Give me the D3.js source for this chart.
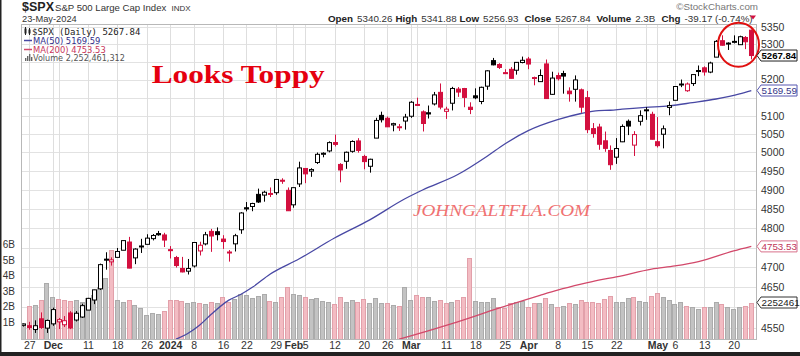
<!DOCTYPE html>
<html><head><meta charset="utf-8">
<script src="https://cdn.jsdelivr.net/npm/d3@7"></script>
<style>body{margin:0;background:#fff}svg{display:block}</style>
</head><body>
<svg id="c" width="800" height="356"></svg>
<script>
// ---------------- data ----------------
const dates = [
"2023-11-24","2023-11-27","2023-11-28","2023-11-29","2023-11-30",
"2023-12-01","2023-12-04","2023-12-05","2023-12-06","2023-12-07","2023-12-08",
"2023-12-11","2023-12-12","2023-12-13","2023-12-14","2023-12-15",
"2023-12-18","2023-12-19","2023-12-20","2023-12-21","2023-12-22",
"2023-12-26","2023-12-27","2023-12-28","2023-12-29",
"2024-01-02","2024-01-03","2024-01-04","2024-01-05",
"2024-01-08","2024-01-09","2024-01-10","2024-01-11","2024-01-12",
"2024-01-16","2024-01-17","2024-01-18","2024-01-19",
"2024-01-22","2024-01-23","2024-01-24","2024-01-25","2024-01-26",
"2024-01-29","2024-01-30","2024-01-31","2024-02-01","2024-02-02",
"2024-02-05","2024-02-06","2024-02-07","2024-02-08","2024-02-09",
"2024-02-12","2024-02-13","2024-02-14","2024-02-15","2024-02-16",
"2024-02-20","2024-02-21","2024-02-22","2024-02-23",
"2024-02-26","2024-02-27","2024-02-28","2024-02-29","2024-03-01",
"2024-03-04","2024-03-05","2024-03-06","2024-03-07","2024-03-08",
"2024-03-11","2024-03-12","2024-03-13","2024-03-14","2024-03-15",
"2024-03-18","2024-03-19","2024-03-20","2024-03-21","2024-03-22",
"2024-03-25","2024-03-26","2024-03-27","2024-03-28",
"2024-04-01","2024-04-02","2024-04-03","2024-04-04","2024-04-05",
"2024-04-08","2024-04-09","2024-04-10","2024-04-11","2024-04-12",
"2024-04-15","2024-04-16","2024-04-17","2024-04-18","2024-04-19",
"2024-04-22","2024-04-23","2024-04-24","2024-04-25","2024-04-26",
"2024-04-29","2024-04-30","2024-05-01","2024-05-02","2024-05-03",
"2024-05-06","2024-05-07","2024-05-08","2024-05-09","2024-05-10",
"2024-05-13","2024-05-14","2024-05-15","2024-05-16","2024-05-17",
"2024-05-20","2024-05-21","2024-05-22","2024-05-23"];

const openP = [4555.84,4554.86,4545.55,4571.84,4548.96,4559.43,4564.37,4557.25,4586.23,4568.84,4576.20,4593.39,4618.30,4646.20,4721.04,4714.23,4725.58,4743.72,4764.73,4724.29,4753.92,4758.86,4773.45,4786.44,4782.88,4745.20,4725.07,4697.42,4690.57,4703.70,4741.93,4759.94,4792.13,4791.18,4772.35,4739.13,4760.10,4796.28,4853.42,4856.80,4888.56,4886.66,4888.91,4892.95,4925.89,4899.19,4861.11,4916.06,4957.19,4950.16,4973.05,4995.16,5004.17,5026.83,4967.94,4976.44,5003.14,5031.13,4989.32,4963.03,5038.83,5100.92,5093.00,5074.60,5067.20,5085.36,5098.51,5130.99,5110.52,5108.03,5132.38,5164.46,5111.96,5134.30,5173.49,5175.14,5123.31,5154.77,5139.09,5181.69,5253.43,5242.48,5219.52,5228.85,5226.31,5248.03,5257.97,5204.29,5194.37,5244.05,5158.95,5211.37,5217.03,5167.88,5172.95,5171.51,5149.67,5064.59,5068.97,5031.52,5005.44,4987.33,5028.85,5084.65,5019.88,5084.65,5114.13,5103.78,5029.03,5049.32,5122.78,5142.42,5187.20,5168.98,5189.03,5225.49,5233.08,5221.10,5263.26,5310.07,5303.10,5305.35,5298.69,5319.28,5340.26];
const highP = [4560.31,4564.37,4568.14,4587.64,4569.89,4599.39,4574.06,4578.56,4590.74,4590.92,4609.23,4623.71,4643.93,4709.69,4738.57,4725.55,4749.52,4768.69,4778.01,4748.71,4772.94,4784.72,4785.39,4793.30,4788.43,4754.33,4729.29,4726.78,4721.49,4764.54,4765.47,4790.80,4798.50,4802.40,4782.34,4744.23,4785.79,4842.07,4868.41,4866.48,4903.68,4898.15,4906.69,4929.31,4931.09,4906.75,4906.97,4975.29,4957.19,4957.77,4999.89,5000.40,5030.06,5048.39,4971.30,5002.52,5032.72,5038.70,4993.71,4983.21,5094.39,5111.06,5097.66,5080.69,5077.37,5104.99,5140.33,5149.67,5114.54,5127.97,5165.62,5189.26,5124.66,5179.87,5179.14,5176.85,5136.86,5175.60,5180.31,5226.19,5261.10,5246.09,5229.09,5235.16,5249.26,5264.85,5263.95,5208.34,5228.75,5256.59,5222.18,5219.57,5224.81,5178.43,5211.78,5175.03,5168.43,5079.84,5077.96,5056.66,5019.02,5038.84,5076.12,5089.48,5057.75,5114.62,5123.49,5110.83,5096.12,5073.21,5139.12,5181.00,5200.23,5191.95,5214.42,5239.66,5237.26,5250.37,5311.76,5325.49,5305.45,5325.32,5324.32,5323.18,5341.88];
const lowP = [4552.80,4545.10,4537.24,4547.15,4537.24,4554.71,4546.72,4551.68,4546.50,4565.22,4574.06,4593.39,4608.09,4643.23,4694.34,4704.69,4725.58,4743.72,4697.82,4708.35,4736.77,4758.45,4768.90,4780.98,4751.99,4722.67,4699.71,4687.53,4682.11,4699.82,4730.35,4756.20,4739.58,4768.98,4747.12,4714.82,4740.57,4785.87,4844.05,4844.37,4865.94,4869.34,4881.47,4887.40,4916.35,4845.15,4853.52,4907.99,4918.09,4934.88,4969.05,4987.09,5000.34,5016.32,4920.31,4956.21,4999.44,4999.52,4955.02,4946.00,5038.83,5081.46,5068.91,5057.29,5058.35,5061.89,5094.16,5127.18,5056.82,5092.22,5128.21,5117.50,5091.14,5114.48,5151.88,5123.30,5104.35,5145.47,5131.59,5171.55,5240.09,5229.87,5216.09,5203.42,5213.92,5245.82,5229.20,5184.05,5194.37,5146.06,5157.21,5197.35,5160.78,5138.70,5138.77,5107.94,5052.47,5039.83,5007.25,5001.89,4953.56,4969.40,5027.96,5047.02,4990.58,5073.14,5088.65,5035.31,5013.45,5011.05,5101.22,5142.42,5178.96,5165.86,5182.38,5209.68,5211.16,5217.98,5263.26,5296.19,5283.59,5302.40,5297.87,5286.01,5256.93];
const closeP = [4559.34,4550.43,4554.89,4550.58,4567.80,4594.63,4569.78,4567.18,4549.34,4585.59,4604.37,4622.44,4643.70,4707.09,4719.55,4719.19,4740.56,4768.37,4698.35,4746.75,4754.63,4774.75,4781.58,4783.35,4769.83,4742.83,4704.81,4688.68,4697.24,4763.54,4756.50,4783.45,4780.24,4783.83,4765.98,4739.21,4780.94,4839.81,4850.43,4864.60,4868.55,4894.16,4890.97,4927.93,4924.97,4845.65,4906.19,4958.61,4942.81,4954.23,4995.06,4997.91,5026.61,5021.84,4953.17,5000.62,5029.73,5005.57,4975.51,4981.80,5087.03,5088.80,5069.53,5078.18,5069.76,5096.27,5137.08,5130.95,5078.65,5104.76,5157.36,5123.69,5117.94,5175.27,5165.31,5150.48,5117.09,5149.42,5178.51,5224.62,5241.53,5234.18,5218.19,5203.58,5248.49,5254.35,5243.77,5205.81,5211.49,5147.21,5204.34,5202.39,5209.91,5160.64,5199.06,5123.41,5061.82,5051.41,5022.21,5011.12,4967.23,5010.60,5070.55,5071.63,5048.42,5099.96,5116.17,5035.69,5018.39,5064.20,5127.79,5180.74,5187.70,5187.67,5214.08,5222.68,5221.42,5246.68,5308.15,5297.10,5303.27,5308.13,5321.41,5307.01,5267.84];
const prevClose0 = 4556.62;
// volume in billions
const volumeB = [0.9,2.03,2.1,2.42,3.5,2.59,2.48,2.42,2.37,2.42,2.31,2.53,2.74,3.24,3.82,5.65,2.42,2.27,2.42,2.1,1.88,1.45,1.56,1.5,1.73,2.42,2.42,2.37,2.2,2.27,2.2,2.16,2.3,2.2,2.6,2.3,2.5,2.8,2.75,2.55,2.7,2.8,2.35,2.31,2.59,3.24,2.79,2.74,2.59,2.46,2.57,2.35,2.29,2.18,2.59,2.31,2.42,2.31,2.48,2.23,2.53,2.25,2.25,2.1,2.05,3.28,2.42,2.74,2.63,2.59,2.37,2.42,2.2,2.27,2.42,2.59,5.11,2.37,2.29,2.31,2.53,1.99,1.92,2.2,2.31,2.35,1.99,2.2,2.2,2.53,2.14,1.95,2.03,2.2,2.16,2.42,2.31,2.31,2.2,2.5,2.68,2.31,2.31,2.57,2.63,2.35,2.31,2.7,2.85,2.59,2.42,2.14,2.31,2.03,1.95,1.82,1.99,1.99,2.27,2.16,1.95,1.82,1.95,2.03,2.252461312];

// moving averages: [date, value]
const ma50 = [["2024-01-03",4522],["2024-01-05",4536],["2024-01-09",4556],["2024-01-11",4583],["2024-01-17",4618],["2024-01-19",4632],["2024-01-23",4650],["2024-01-26",4683],["2024-02-02",4722],["2024-02-12",4775],["2024-02-21",4822],["2024-02-29",4877],["2024-03-05",4900],["2024-03-13",4941],["2024-03-20",4990],["2024-03-25",5023],["2024-04-01",5059],["2024-04-08",5089],["2024-04-12",5106],["2024-04-17",5114],["2024-04-19",5115],["2024-04-23",5118],["2024-04-29",5123],["2024-05-03",5127],["2024-05-09",5136],["2024-05-15",5146],["2024-05-21",5160],["2024-05-23",5169.59]];
const ma200 = [["2024-02-28",4522],["2024-03-01",4530],["2024-03-12",4560],["2024-03-22",4598],["2024-04-03",4630],["2024-04-08",4643],["2024-04-12",4658],["2024-04-17",4668],["2024-04-22",4676],["2024-04-30",4696],["2024-05-06",4704],["2024-05-10",4715],["2024-05-20",4742],["2024-05-23",4753.53]];

const priceTicks = [4550,4600,4650,4700,4750,4800,4850,4900,4950,5000,5050,5100,5150,5200,5250,5300,5350];
const volTicks = [1,2,3,4,5,6];
const dateTicks = [["2023-11-27","27"],["2023-12-01","Dec"],["2023-12-11","11"],["2023-12-18","18"],["2023-12-26","26"],["2024-01-02","2024"],["2024-01-08","8"],["2024-01-16","16"],["2024-01-22","22"],["2024-01-29","29"],["2024-02-01","Feb"],["2024-02-05","5"],["2024-02-12","12"],["2024-02-20","20"],["2024-02-26","26"],["2024-03-01","Mar"],["2024-03-11","11"],["2024-03-18","18"],["2024-03-25","25"],["2024-04-01","Apr"],["2024-04-08","8"],["2024-04-15","15"],["2024-04-22","22"],["2024-05-01","May"],["2024-05-06","6"],["2024-05-13","13"],["2024-05-20","20"]];
const monthLabels = ["Dec","2024","Feb","Mar","Apr","May"];
const gridDates = ["2023-11-27","2023-12-01","2023-12-04","2023-12-11","2023-12-18","2023-12-26","2024-01-02","2024-01-08","2024-01-16","2024-01-22","2024-01-29","2024-02-01","2024-02-05","2024-02-12","2024-02-20","2024-02-26","2024-03-01","2024-03-04","2024-03-11","2024-03-18","2024-03-25","2024-04-01","2024-04-08","2024-04-15","2024-04-22","2024-04-29","2024-05-01","2024-05-06","2024-05-13","2024-05-20"];

// header fields
const headerFields = [["Open","5340.26",328],["High","5341.88",395.5],["Low","5256.93",459.5],["Close","5267.84",524.5],["Volume","2.3B",596.5],["Chg","-39.17 (-0.74%)",661.5]];

// ---------------- drawing ----------------
const W = 800, H = 356;
const L = 21, R = 757, T = 24, B = 339;
const svg = d3.select("#c");
const SANS = "'Liberation Sans', Arial, sans-serif";
const RED = "#d3103f", MA50C = "#4848a4", MA200C = "#d2486a";

svg.append("rect").attr("width", W).attr("height", H).attr("fill", "#fff");

const x = d3.scalePoint().domain(dates).range([23.4, 751.3]);
const y = d3.scaleLog().domain([4520, 5358]).range([340, 24]);
const yv = d3.scaleLinear().domain([0, 6]).range([337.5, 244.3]);

const defs = svg.append("defs");
defs.append("clipPath").attr("id", "pc").append("rect")
  .attr("x", L).attr("y", T).attr("width", R - L).attr("height", B - T);

// grid
const grid = svg.append("g");
grid.selectAll("line.h").data(priceTicks).join("line")
  .attr("x1", L).attr("x2", R).attr("y1", d => Math.round(y(d)) + 0.5).attr("y2", d => Math.round(y(d)) + 0.5)
  .attr("stroke", "#e2e2e2").attr("stroke-width", 1);
grid.selectAll("line.v").data(gridDates).join("line")
  .attr("y1", T).attr("y2", B).attr("x1", d => Math.round(x(d)) + 0.5).attr("x2", d => Math.round(x(d)) + 0.5)
  .attr("stroke", "#dedede").attr("stroke-width", 1);

// volume
const plot = svg.append("g").attr("clip-path", "url(#pc)");
const isDown = i => closeP[i] < (i === 0 ? prevClose0 : closeP[i - 1]);
plot.append("g").attr("shape-rendering", "crispEdges").selectAll("rect").data(dates).join("rect")
  .attr("x", d => Math.round(x(d) - 2.5) + 0.5)
  .attr("width", 4)
  .attr("y", (d, i) => Math.round(yv(volumeB[i])) + 0.5)
  .attr("height", (d, i) => B - Math.round(yv(volumeB[i])))
  .attr("fill", (d, i) => isDown(i) ? "#f3bcc3" : "#c3c3c3")
  .attr("stroke", (d, i) => isDown(i) ? "#e2a0aa" : "#ababab")
  .attr("stroke-width", 1);

// moving averages
const line = d3.line().x(d => x(d[0])).y(d => y(d[1])).curve(d3.curveMonotoneX);
plot.append("path").datum(ma50).attr("d", line).attr("fill", "none").attr("stroke", MA50C).attr("stroke-width", 1.3);
plot.append("path").datum(ma200).attr("d", line).attr("fill", "none").attr("stroke", MA200C).attr("stroke-width", 1.3);

// candles
const cg = plot.append("g");
dates.forEach((d, i) => {
  const o = openP[i], c = closeP[i], h = highP[i], l = lowP[i];
  const col = isDown(i) ? RED : "#000";
  const hollow = c >= o;
  const cx = Math.round(x(d)) + 0.5;
  cg.append("line").attr("x1", cx).attr("x2", cx).attr("y1", y(h)).attr("y2", y(l))
    .attr("stroke", col).attr("stroke-width", 1);
  const top = y(Math.max(o, c)), bot = y(Math.min(o, c));
  const hgt = Math.max(1, bot - top);
  cg.append("rect").attr("x", cx - 2).attr("width", 4)
    .attr("y", top).attr("height", hgt)
    .attr("fill", hollow ? "#fff" : col)
    .attr("stroke", col).attr("stroke-width", 1);
});

// panel border
svg.append("rect").attr("x", L + 0.5).attr("y", T + 0.5).attr("width", R - L - 1).attr("height", B - T)
  .attr("fill", "none").attr("stroke", "#b8b8b8");

// value tags (positions) on the right
const tags = [
  [y(closeP[closeP.length - 1]), "5267.84", "#222", "#000", true],
  [y(ma50[ma50.length - 1][1]), "5169.59", "#5656b0", "#343488", false],
  [y(ma200[ma200.length - 1][1]), "4753.53", "#d8708a", "#c03458", false],
  [yv(volumeB[volumeB.length - 1]), "2252461", "#333", "#222", false]
];

// right price axis (labels hidden behind the value tags are left out, as in the reference)
const visibleTicks = priceTicks.filter(p => tags.every(t => Math.abs(y(p) - t[0]) > 9));
const ax = svg.append("g").attr("transform", `translate(${R},0)`)
  .call(d3.axisRight(y).tickValues(visibleTicks).tickFormat(d3.format("d")).tickSize(0).tickPadding(4));
ax.select(".domain").remove();
ax.selectAll("text").attr("font-family", SANS).attr("font-size", 10.5).attr("fill", "#333");

// left volume axis
const av = svg.append("g").attr("transform", `translate(${L},0)`)
  .call(d3.axisLeft(yv).tickValues(volTicks).tickFormat(d => d + "B").tickSize(0).tickPadding(6));
av.select(".domain").remove();
av.selectAll("text").attr("font-family", SANS).attr("font-size", 10).attr("fill", "#333");

// bottom date axis
const labMap = new Map(dateTicks);
const ab = svg.append("g").attr("transform", `translate(0,${B})`)
  .call(d3.axisBottom(x).tickValues(dateTicks.map(t => t[0])).tickFormat(d => labMap.get(d)).tickSize(0).tickPadding(3));
ab.select(".domain").remove();
ab.selectAll("text").attr("font-family", SANS).attr("font-size", 10.5).attr("fill", "#333")
  .attr("font-weight", d => monthLabels.includes(labMap.get(d)) ? "bold" : "normal");

// header
svg.append("text").attr("x", 22).attr("y", 11).attr("font-family", SANS).attr("font-weight", "bold")
  .attr("font-size", 12.5).attr("fill", "#222").text("$SPX");
svg.append("text").attr("x", 55).attr("y", 10.5).attr("font-family", SANS).attr("font-size", 9.6).attr("fill", "#333")
  .text("S&P 500 Large Cap Index");
svg.append("text").attr("x", 171.5).attr("y", 10.5).attr("font-family", SANS).attr("font-size", 8).attr("fill", "#333")
  .text("INDX");
svg.append("text").attr("x", 22).attr("y", 21.5).attr("font-family", SANS).attr("font-size", 9.3).attr("fill", "#333")
  .text("23-May-2024");
svg.append("text").attr("x", 758).attr("y", 10).attr("text-anchor", "end").attr("font-family", SANS)
  .attr("font-size", 9.8).attr("fill", "#777").text("\u00A9StockCharts.com");
headerFields.forEach(([k, v, px]) => {
  const t = svg.append("text").attr("x", px).attr("y", 21.5).attr("font-family", SANS).attr("font-size", 9.8).attr("fill", "#333");
  t.append("tspan").attr("font-weight", "bold").attr("fill", "#222").text(k);
  t.append("tspan").attr("dx", 4).text(v);
});
svg.append("path").attr("d", "M750,15.5 L756,15.5 L753,19.5 Z").attr("fill", RED);

// legend
const lg = svg.append("g");
lg.append("rect").attr("x", 24.5).attr("y", 28.5).attr("width", 2).attr("height", 5).attr("fill", "#222");
lg.append("line").attr("x1", 25.5).attr("x2", 25.5).attr("y1", 27).attr("y2", 35).attr("stroke", "#222");
lg.append("rect").attr("x", 28.5).attr("y", 29.5).attr("width", 2).attr("height", 4).attr("fill", "#222");
lg.append("line").attr("x1", 29.5).attr("x2", 29.5).attr("y1", 28).attr("y2", 35).attr("stroke", "#222");
lg.append("text").attr("x", 32).attr("y", 34.5).attr("font-family", "'DejaVu Sans Mono', monospace")
  .attr("font-size", 9).attr("fill", "#222").text("$SPX (Daily) 5267.84");
lg.append("line").attr("x1", 24).attr("x2", 32).attr("y1", 40.5).attr("y2", 40.5).attr("stroke", MA50C).attr("stroke-width", 1.5);
lg.append("text").attr("x", 33).attr("y", 43.5).attr("font-family", "'DejaVu Sans', sans-serif")
  .attr("font-size", 8.4).attr("fill", "#2e2e8a").text("MA(50) 5169.59");
lg.append("line").attr("x1", 24).attr("x2", 32).attr("y1", 49.5).attr("y2", 49.5).attr("stroke", MA200C).attr("stroke-width", 1.5);
lg.append("text").attr("x", 33).attr("y", 52.5).attr("font-family", "'DejaVu Sans', sans-serif")
  .attr("font-size", 8.4).attr("fill", "#c8365a").text("MA(200) 4753.53");
[[25, 3], [27, 5], [29, 7], [31, 4]].forEach(([bx, bh]) =>
  lg.append("rect").attr("x", bx).attr("y", 61 - bh).attr("width", 1.4).attr("height", bh).attr("fill", "#666"));
lg.append("text").attr("x", 33).attr("y", 61.3).attr("font-family", "'DejaVu Sans', sans-serif")
  .attr("font-size", 8.1).attr("fill", "#555").text("Volume 2,252,461,312");

// annotations
svg.append("text").attr("x", 151.7).attr("y", 83.3).attr("font-family", "'Liberation Serif', 'Times New Roman', serif")
  .attr("font-weight", "bold").attr("font-size", 25).attr("fill", "#e5000f")
  .attr("textLength", 173).attr("lengthAdjust", "spacingAndGlyphs").text("Looks Toppy");
svg.append("text").attr("x", 413).attr("y", 215.7).attr("font-family", "'Liberation Serif', 'Times New Roman', serif")
  .attr("font-style", "italic").attr("font-size", 17.5).attr("fill", "#f07272")
  .attr("textLength", 177).attr("lengthAdjust", "spacingAndGlyphs").text("JOHNGALTFLA.COM");
svg.append("ellipse").attr("cx", 738.5).attr("cy", 44.8).attr("rx", 20.5).attr("ry", 22)
  .attr("fill", "none").attr("stroke", "#e01010").attr("stroke-width", 2);

// draw value tags
tags.forEach(([cy, txt, stroke, fill, bold]) => {
  const g = svg.append("g");
  g.append("path").attr("d", `M${R},${cy} L${R + 4},${cy - 5.5} L797,${cy - 5.5} L797,${cy + 5.5} L${R + 4},${cy + 5.5} Z`)
    .attr("fill", "#fff").attr("stroke", stroke).attr("stroke-width", 1);
  g.append("text").attr("x", 761.5).attr("y", cy + 3.6).attr("font-family", SANS).attr("font-size", bold ? 9.6 : 9.8)
    .attr("font-weight", bold ? "bold" : "normal").attr("fill", fill).text(txt);
});

// outer frame
svg.append("rect").attr("x", 0).attr("y", 0).attr("width", 1.5).attr("height", H).attr("fill", "#222");
svg.append("rect").attr("x", 0).attr("y", 352).attr("width", W).attr("height", 4).attr("fill", "#222");
</script>
</body></html>
